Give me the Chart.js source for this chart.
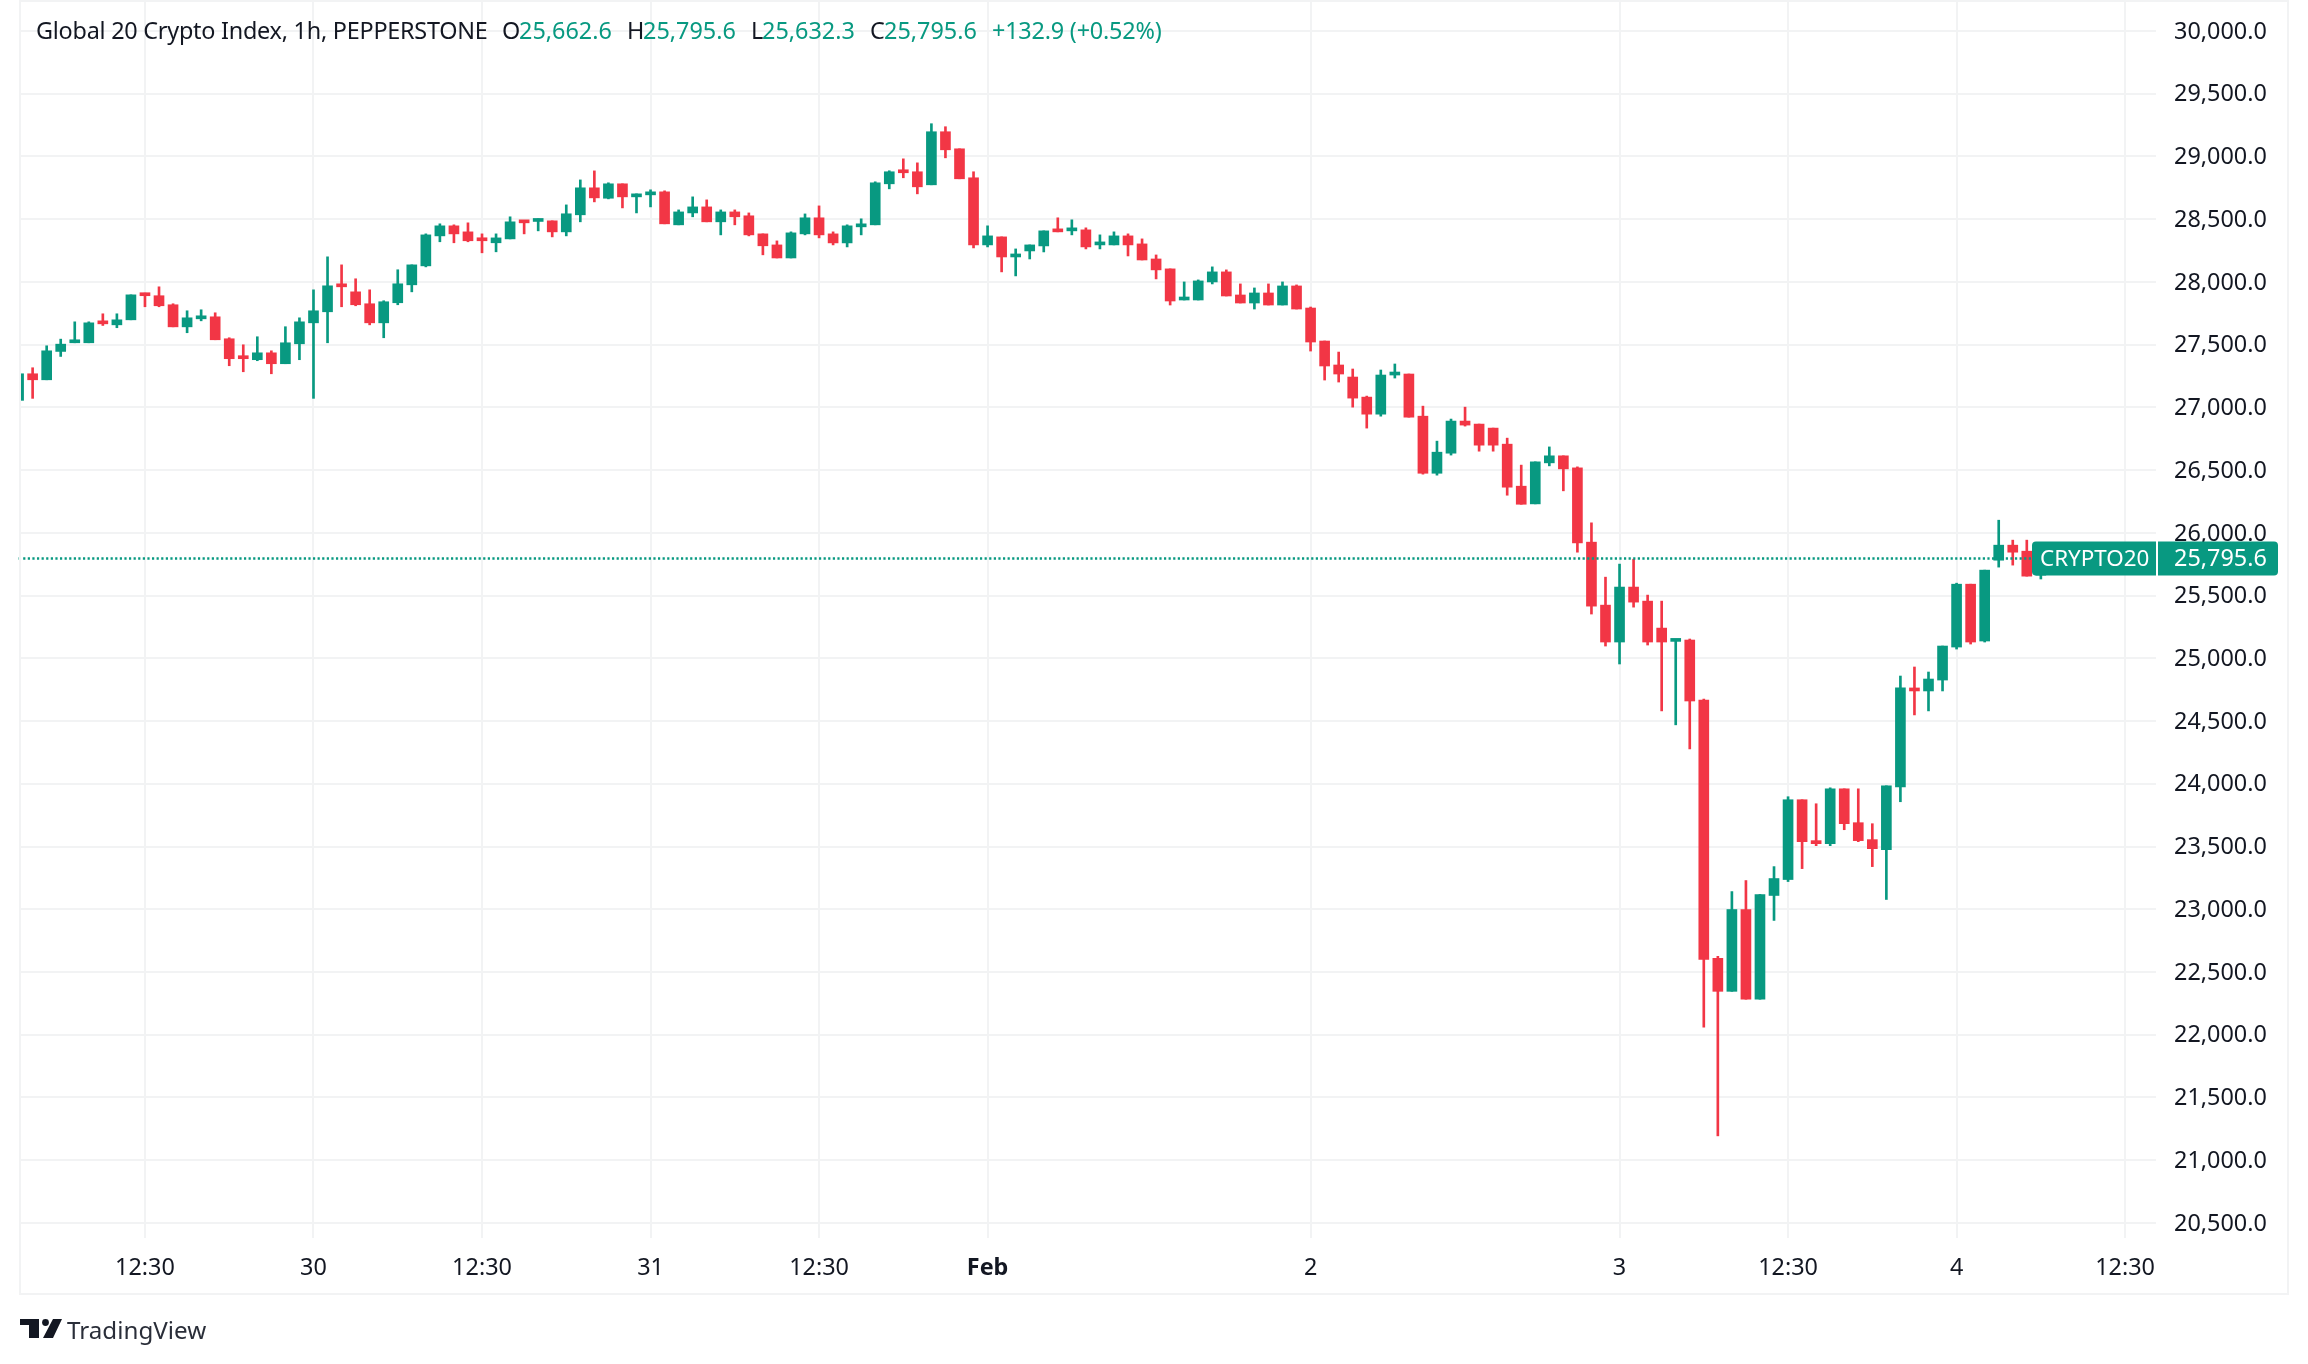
<!DOCTYPE html>
<html>
<head>
<meta charset="utf-8">
<title>Global 20 Crypto Index</title>
<script src="https://cdn.jsdelivr.net/npm/chart.js@4"></script>
<style>
  html, body { margin: 0; padding: 0; background: #fff; }
  #wrap { position: relative; width: 2308px; height: 1364px; overflow: hidden; }
  canvas { position: absolute; left: 0; top: 0; }
  .t { position: absolute; top: 13px; font: 23.4px "Noto Sans", sans-serif; line-height: 34px; white-space: nowrap; color: #131722; }
  .g { color: #089981; }
</style>
</head>
<body>
<div id="wrap">
  <canvas id="chart" width="2308" height="1364"></canvas>
  <span class="t" style="left:36px;letter-spacing:-0.24px">Global 20 Crypto Index, 1h, PEPPERSTONE</span>
  <span class="t" style="left:502px">O</span><span class="t g" style="left:519px">25,662.6</span>
  <span class="t" style="left:627px">H</span><span class="t g" style="left:643px">25,795.6</span>
  <span class="t" style="left:751px">L</span><span class="t g" style="left:762px">25,632.3</span>
  <span class="t" style="left:870px">C</span><span class="t g" style="left:884px">25,795.6</span>
  <span class="t g" style="left:992px;letter-spacing:-0.2px">+132.9 (+0.52%)</span>
  <svg style="position:absolute;left:0;top:0" width="80" height="1364">
    <path d="M20 1319h19v19h-10v-13h-9z M53 1319h9l-9 19h-10z" fill="#131722"/>
    <circle cx="45.5" cy="1322.5" r="3.4" fill="#131722"/>
  </svg>
  <span class="t" style="left:67px;top:1313px;font-size:24.2px;color:#2a2e39">TradingView</span>
</div>
<script>
// hourly candles
const opens = [27056,27268,27220,27446,27515,27515,27682,27658,27698,27905,
  27890,27818,27642,27706,27722,27547,27404,27380,27435,27348,
  27507,27674,27762,27977,27921,27826,27674,27834,27977,28128,
  28367,28447,28399,28343,28312,28343,28487,28482,28487,28399,
  28535,28750,28667,28782,28678,28694,28718,28455,28550,28598,
  28479,28558,28527,28383,28295,28191,28383,28511,28383,28311,
  28439,28455,28782,28886,28878,28774,29197,29061,28830,28295,
  28359,28199,28247,28287,28415,28407,28415,28295,28295,28367,
  28303,28183,28104,27856,27856,28000,28080,27896,27832,27912,
  27816,27968,27792,27529,27338,27242,27082,26946,27258,27266,
  26930,26475,26635,26891,26867,26835,26707,26372,26231,26558,
  26614,26518,25926,25424,25130,25568,25456,25241,25135,25146,
  24668,22609,22346,22998,22283,23110,23237,23873,23547,23523,
  23960,23690,23555,23475,23976,24764,24740,24827,25090,25591,
  25138,25782,25902,25854,25662.6];
const highs = [27268,27316,27491,27544,27682,27682,27746,27746,27897,27911,
  27961,27826,27770,27778,27754,27555,27499,27563,27451,27643,
  27714,27937,28200,28136,28025,27937,27850,28097,28136,28383,
  28463,28455,28471,28383,28383,28519,28487,28503,28487,28614,
  28813,28885,28790,28782,28702,28734,28726,28574,28678,28654,
  28574,28574,28550,28383,28327,28399,28542,28606,28399,28455,
  28503,28798,28886,28981,28949,29261,29237,29061,28878,28447,
  28359,28263,28295,28407,28511,28495,28431,28375,28399,28383,
  28343,28215,28104,28000,28016,28120,28096,27984,27952,27984,
  28000,27976,27800,27529,27441,27306,27090,27298,27346,27266,
  27010,26731,26907,27002,26867,26835,26755,26540,26566,26685,
  26614,26526,26080,25647,25751,25790,25504,25456,25151,25154,
  24676,22625,23141,23229,23118,23340,23897,23873,23841,23968,
  23960,23960,23682,23984,24859,24931,24891,25098,25599,25591,
  25703,26101,25942,25942,25795.6];
const lows = [27056,27072,27220,27406,27515,27515,27653,27635,27698,27802,
  27802,27642,27595,27690,27539,27332,27284,27372,27268,27348,
  27380,27072,27515,27802,27810,27658,27555,27818,27921,28120,
  28320,28312,28320,28232,28240,28343,28383,28407,28359,28367,
  28479,28638,28662,28590,28550,28598,28463,28455,28519,28479,
  28375,28455,28367,28216,28191,28191,28375,28351,28295,28279,
  28375,28455,28742,28830,28702,28774,28989,28822,28271,28279,
  28080,28048,28183,28239,28399,28375,28263,28263,28295,28207,
  28175,28024,27816,27856,27856,27984,27888,27832,27784,27816,
  27816,27784,27449,27218,27202,27002,26835,26930,27234,26922,
  26468,26460,26620,26851,26651,26651,26300,26228,26231,26534,
  26335,25846,25353,25098,24955,25408,25106,24581,24470,24278,
  22060,21194,22346,22283,22283,22911,23221,23324,23507,23507,
  23634,23539,23340,23078,23857,24549,24581,24740,25074,25114,
  25130,25727,25743,25655,25632.3];
const closes = [27268,27220,27451,27504,27531,27674,27666,27698,27897,27890,
  27810,27642,27714,27722,27539,27388,27388,27435,27348,27515,
  27682,27770,27969,27961,27818,27674,27842,27985,28136,28375,
  28447,28383,28328,28328,28351,28479,28471,28495,28399,28543,
  28750,28670,28782,28678,28702,28718,28463,28558,28598,28479,
  28558,28519,28375,28288,28191,28391,28511,28375,28311,28447,
  28463,28790,28878,28870,28758,29197,29053,28822,28295,28367,
  28199,28223,28295,28407,28399,28423,28279,28311,28367,28295,
  28175,28096,27848,27872,28008,28080,27888,27832,27912,27816,
  27968,27784,27521,27330,27266,27074,26946,27258,27274,26922,
  26475,26643,26891,26859,26699,26699,26364,26228,26566,26614,
  26510,25920,25416,25130,25568,25448,25130,25130,25151,24660,
  22601,22346,22998,22283,23118,23245,23873,23539,23523,23960,
  23682,23547,23483,23984,24764,24740,24835,25098,25591,25130,
  25703,25902,25846,25655,25795.6];

const xTickPos = [9, 21, 33, 45, 57, 69, 92, 114, 126, 138, 150];
const xTickLabels = ['12:30', '30', '12:30', '31', '12:30', 'Feb', '2', '3', '12:30', '4', '12:30'];
const yTicks = [20500,21000,21500,22000,22500,23000,23500,24000,24500,25000,25500,26000,26500,27000,27500,28000,28500,29000,29500,30000];
const lastPrice = 25795.6;
const lastName = 'CRYPTO20';

const GREEN = '#089981', RED = '#F23645', GRID = '#f2f3f4', TEXT = '#131722';
const FONT = '"Noto Sans", sans-serif';
const fmt = v => v.toLocaleString('en-US', { minimumFractionDigits: 1, maximumFractionDigits: 1 });

const candleColors = opens.map((o, i) => closes[i] >= o ? GREEN : RED);
const wicks = opens.map((o, i) => ({ x: i, y: [lows[i], highs[i]] }));
const bodies = opens.map((o, i) => ({ x: i, y: [Math.min(o, closes[i]), Math.max(o, closes[i])] }));

// outer frame and the last price tag sit on top of the plot
const overlay = {
  id: 'overlay',
  afterDraw(chart) {
    const c = chart.ctx;
    const y = chart.scales.y.getPixelForValue(lastPrice);
    c.save();
    c.strokeStyle = GRID;
    c.lineWidth = 2;
    c.strokeRect(20, 1, 2268, 1293);
    c.fillStyle = GREEN;
    c.beginPath(); c.roundRect(2032, y - 17, 124, 34, [4, 0, 0, 4]); c.fill();
    c.beginPath(); c.roundRect(2158, y - 17, 120, 34, [0, 4, 4, 0]); c.fill();
    c.fillStyle = '#fff';
    c.textBaseline = 'middle';
    c.font = '22.4px ' + FONT;
    c.fillText(lastName, 2040, y + 1);
    c.font = '23.4px ' + FONT;
    c.fillText(fmt(lastPrice), 2174, y + 1);
    c.restore();
  }
};

new Chart(document.getElementById('chart'), {
  data: {
    datasets: [
      {
        type: 'line',
        data: [{ x: 0, y: lastPrice }, { x: 152.2, y: lastPrice }],
        borderColor: GREEN,
        borderWidth: 2.4,
        borderDash: [2.2, 2.4],
        pointRadius: 0,
        clip: 2,
        order: 0
      },
      {
        type: 'bar',
        data: bodies,
        backgroundColor: candleColors,
        barThickness: 10,
        minBarLength: 3,
        grouped: false,
        order: 1
      },
      {
        type: 'bar',
        data: wicks,
        backgroundColor: candleColors,
        barThickness: 2,
        grouped: false,
        order: 2
      }
    ]
  },
  options: {
    responsive: false,
    devicePixelRatio: 1,
    animation: false,
    layout: { padding: { left: 19, top: 1 } },
    plugins: { legend: { display: false }, tooltip: { enabled: false } },
    scales: {
      x: {
        type: 'linear',
        min: 0.03,
        max: 152.2,
        offset: false,
        afterBuildTicks: s => { s.ticks = xTickPos.map(v => ({ value: v })); },
        afterFit: s => { s.height = 126; s.paddingLeft = 0; s.paddingRight = 0; },
        border: { display: false },
        grid: { color: GRID, lineWidth: 2, drawTicks: false, offset: false },
        ticks: {
          autoSkip: false,
          maxRotation: 0,
          padding: 16,
          color: TEXT,
          callback: (v, i) => xTickLabels[i],
          font: ctx => ({ family: FONT, size: 23.4, weight: xTickLabels[ctx.index] === 'Feb' ? 'bold' : 'normal' })
        }
      },
      y: {
        position: 'right',
        min: 20380,
        max: 30239,
        afterBuildTicks: s => { s.ticks = yTicks.map(v => ({ value: v })); },
        afterFit: s => { s.width = 152; s.paddingTop = 0; s.paddingBottom = 0; },
        border: { display: false },
        grid: { color: GRID, lineWidth: 2, drawTicks: false },
        ticks: {
          autoSkip: false,
          padding: 18,
          labelOffset: 1,
          color: TEXT,
          font: { family: FONT, size: 23.4 },
          callback: v => fmt(v)
        }
      }
    }
  },
  plugins: [overlay]
});
</script>
</body>
</html>
